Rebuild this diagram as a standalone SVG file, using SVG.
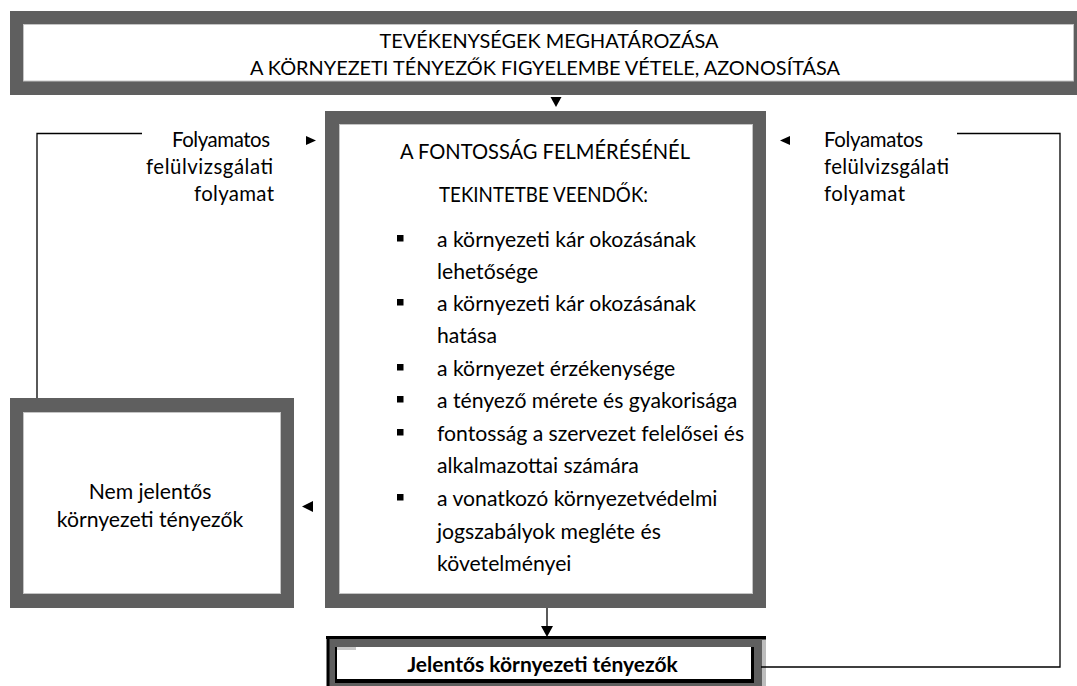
<svg xmlns="http://www.w3.org/2000/svg" width="1077" height="686" viewBox="0 0 1077 686">
<style>
.frame{fill:#5f5f5f}
.inner{fill:#ffffff;stroke:#c4c4c4;stroke-width:1}
.t{font-family:Lato,"Liberation Sans",sans-serif;fill:#000}
.box{font-size:21.2px}
.top{font-size:19.9px}
.side{font-size:20.4px}
.bold{font-size:21px;font-weight:bold}
.line{fill:none;stroke:#000;stroke-width:1.3}
.tri{fill:#000}
</style>
<rect width="1077" height="686" fill="#ffffff"/>

<g id="node-top">
<rect class="frame" x="10" y="11" width="1067" height="84"/>
<rect class="inner" x="23.5" y="24.5" width="1050" height="56.5"/>
<text class="t top" x="549" y="48" text-anchor="middle">TEVÉKENYSÉGEK MEGHATÁROZÁSA</text>
<text class="t top" x="545" y="75" text-anchor="middle">A KÖRNYEZETI TÉNYEZŐK FIGYELEMBE VÉTELE, AZONOSÍTÁSA</text>
</g>

<g id="node-center">
<rect class="frame" x="325" y="111" width="441" height="497"/>
<rect class="inner" x="339.5" y="124.5" width="413" height="469"/>
<text class="t box" x="545" y="159" text-anchor="middle" textLength="290" lengthAdjust="spacingAndGlyphs">A FONTOSSÁG FELMÉRÉSÉNÉL</text>
<text class="t box" x="543.5" y="202" text-anchor="middle" textLength="209" lengthAdjust="spacingAndGlyphs">TEKINTETBE VEENDŐK:</text>
<rect class="tri" x="397" y="235" width="6.5" height="6.5"/>
<rect class="tri" x="397" y="299" width="6.5" height="6.5"/>
<rect class="tri" x="397" y="364" width="6.5" height="6.5"/>
<rect class="tri" x="397" y="396" width="6.5" height="6.5"/>
<rect class="tri" x="397" y="429" width="6.5" height="6.5"/>
<rect class="tri" x="397" y="494" width="6.5" height="6.5"/>
<text class="t box" x="437" y="247">a környezeti kár okozásának</text>
<text class="t box" x="437" y="279">lehetősége</text>
<text class="t box" x="437" y="311">a környezeti kár okozásának</text>
<text class="t box" x="437" y="343">hatása</text>
<text class="t box" x="437" y="376">a környezet érzékenysége</text>
<text class="t box" x="437" y="408">a tényező mérete és gyakorisága</text>
<text class="t box" x="437" y="441">fontosság a szervezet felelősei és</text>
<text class="t box" x="437" y="473">alkalmazottai számára</text>
<text class="t box" x="437" y="506">a vonatkozó környezetvédelmi</text>
<text class="t box" x="437" y="539">jogszabályok megléte és</text>
<text class="t box" x="437" y="571">követelményei</text>
</g>

<g id="node-nem">
<rect class="frame" x="10" y="398" width="284" height="210"/>
<rect class="inner" x="23.5" y="412.5" width="257" height="181"/>
<text class="t box" x="150" y="499" text-anchor="middle">Nem jelentős</text>
<text class="t box" x="150" y="527" text-anchor="middle">környezeti tényezők</text>
</g>

<g id="node-jelentos">
<rect class="frame" x="327" y="637" width="439" height="49"/>
<rect x="762" y="640" width="4" height="46" fill="#bdbdbd"/>
<line x1="326" y1="637.5" x2="766" y2="637.5" stroke="#000" stroke-width="3"/>
<line x1="328" y1="636" x2="328" y2="686" stroke="#000" stroke-width="3"/>
<rect x="336" y="647" width="416" height="33" fill="#ffffff"/>
<rect x="336" y="647" width="20" height="3" fill="#c8c8c8"/>
<line x1="336" y1="647" x2="336" y2="682" stroke="#000" stroke-width="2"/>
<line x1="752.5" y1="647" x2="752.5" y2="683" stroke="#000" stroke-width="3"/>
<line x1="335" y1="681" x2="754" y2="681" stroke="#000" stroke-width="4"/>
<text class="t bold" x="542.5" y="672" text-anchor="middle">Jelentős környezeti tényezők</text>
</g>

<g id="label-left">
<text class="t side" x="270" y="147" text-anchor="end" textLength="98">Folyamatos</text>
<text class="t side" x="273" y="174" text-anchor="end" textLength="127">felülvizsgálati</text>
<text class="t side" x="274" y="201" text-anchor="end" textLength="80">folyamat</text>
</g>

<g id="label-right">
<text class="t side" x="824" y="147" textLength="99">Folyamatos</text>
<text class="t side" x="824" y="174" textLength="125">felülvizsgálati</text>
<text class="t side" x="824" y="201" textLength="81">folyamat</text>
</g>

<g id="connectors">
<polyline class="line" points="37,398 37,133.5 142,133.5"/>
<polyline class="line" points="957,133.5 1060,133.5 1060,667 761,667"/>
<line class="line" x1="547" y1="608" x2="547" y2="627"/>
<polygon class="tri" points="541,626 553,626 547,637"/>
<polygon class="tri" points="550.5,97 561.5,97 556,107"/>
<polygon class="tri" points="306,136 306,145 316,140.5"/>
<polygon class="tri" points="790,136 790,145 780,140.5"/>
<polygon class="tri" points="313,501 313,512 302,506.5"/>
</g>
</svg>
